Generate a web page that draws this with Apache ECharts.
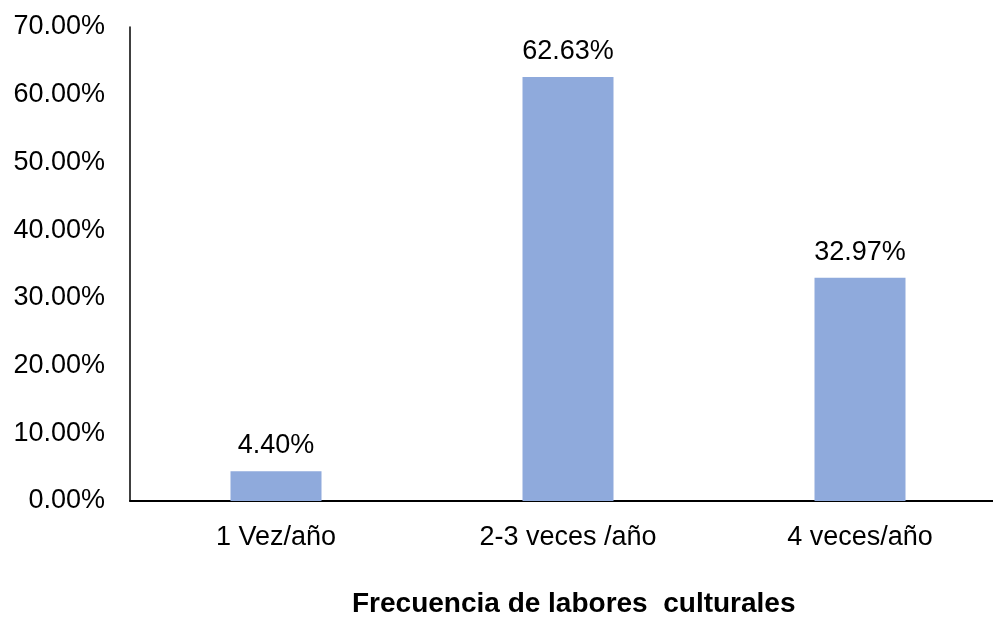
<!DOCTYPE html>
<html>
<head>
<meta charset="utf-8">
<script src="https://cdn.jsdelivr.net/npm/echarts@6/dist/echarts.min.js"></script>
<style>
  html, body { margin: 0; padding: 0; background: #fff; }
  #chart { width: 993px; height: 617px; }
</style>
</head>
<body>
<div id="chart"></div>
<script>
const categories = ['1 Vez/año', '2-3 veces /año', '4 veces/año']
const values = [4.40, 62.63, 32.97]
const axisTitle = 'Frecuencia de labores  culturales'

const chart = echarts.init(document.getElementById('chart'))

chart.setOption({
  backgroundColor: '#fff',
  animation: false,
  textStyle: { fontFamily: 'Liberation Sans, Arial, sans-serif' },
  title: {
    text: axisTitle,
    left: 352,
    top: 590,
    padding: 0,
    textStyle: { fontSize: 28, fontWeight: 'bold', color: '#000', fontFamily: 'Liberation Sans, Arial, sans-serif' }
  },
  // the category band runs past the right edge of the picture
  grid: { left: 130, width: 876, top: 27, bottom: 116, containLabel: false, outerBoundsMode: 'none' },
  xAxis: {
    type: 'category',
    data: categories,
    axisLine: { lineStyle: { color: '#000', width: 2 } },
    axisTick: { show: false },
    axisLabel: { color: '#000', fontSize: 27, margin: 23 }
  },
  yAxis: {
    type: 'value',
    min: 0,
    max: 70,
    interval: 10,
    axisLine: { show: true, lineStyle: { color: '#000', width: 1.5 } },
    axisTick: { show: false },
    splitLine: { show: false },
    axisLabel: {
      color: '#000',
      fontSize: 27,
      margin: 25,
      formatter: (v) => v.toFixed(2) + '%'
    }
  },
  series: [
    {
      type: 'bar',
      data: values,
      barWidth: 91,
      itemStyle: { color: '#8faadc' },
      label: {
        show: true,
        position: 'top',
        distance: 12,
        color: '#000',
        fontSize: 27,
        formatter: (p) => p.value.toFixed(2) + '%'
      }
    }
  ]
})
</script>
</body>
</html>
